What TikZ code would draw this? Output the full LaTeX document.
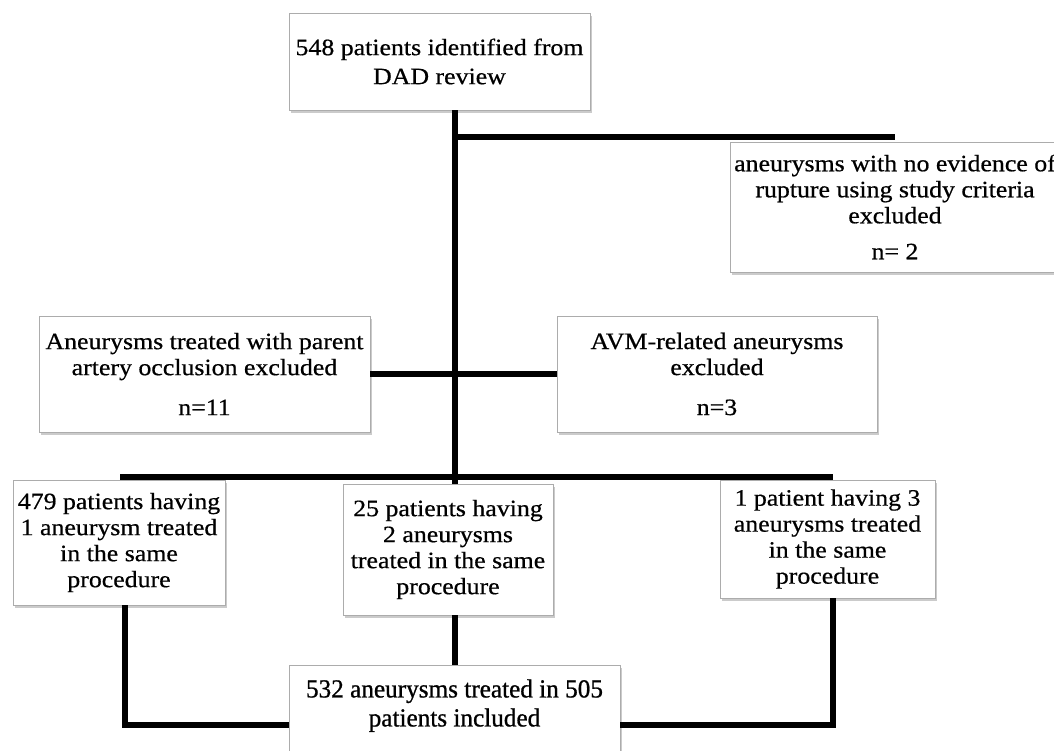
\documentclass[tikz,border=0pt]{standalone}
\usepackage{fontspec}
\setmainfont{Liberation Serif}[FakeStretch=1.1, FakeBold=0.6]
\newfontfamily\finalfont{Liberation Serif}[FakeStretch=0.97, FakeBold=0.8]
\usetikzlibrary{shadows}
\begin{document}
\begin{tikzpicture}[x=1pt,y=-1pt,
  box/.style={draw=gray!65, line width=0.8pt, fill=white, align=center,
    font=\fontsize{23.5}{26}\selectfont, inner sep=1pt,
    drop shadow={shadow xshift=1.5pt, shadow yshift=-3pt, fill=black!45, opacity=0.45}},
  conn/.style={line width=5.5pt, line cap=butt}]
\useasboundingbox (0,0) rectangle (1054,751);
\clip (0,0) rectangle (1054,751);
% boxes
\node[box, minimum width=301pt, minimum height=97pt] (top) at (439.5,61.5)
  {548 patients identified from\\[3pt]DAD review};
\node[box, minimum width=330pt, minimum height=130pt] (rupt) at (895,207)
  {aneurysms with no evidence of\\rupture using study criteria\\excluded\\[10pt]n= 2};
\node[box, minimum width=331pt, minimum height=116pt] (occl) at (204.5,374)
  {Aneurysms treated with parent\\artery occlusion excluded\\[14pt]n=11};
\node[box, minimum width=320pt, minimum height=116pt] (avm) at (717,374)
  {AVM-related aneurysms\\excluded\\[14pt]n=3};
\node[box, minimum width=212pt, minimum height=125pt] (p479) at (119,542.5)
  {479 patients having\\1 aneurysm treated\\in the same\\procedure};
\node[box, minimum width=210pt, minimum height=131pt] (p25) at (448,549.5)
  {25 patients having\\2 aneurysms\\treated in the same\\procedure};
\node[box, minimum width=215pt, minimum height=118pt] (p1) at (827.5,539)
  {1 patient having 3\\aneurysms treated\\in the same\\procedure};
\node[box, minimum width=331pt, anchor=north, inner ysep=14pt, text depth=70pt,
  font=\finalfont\fontsize{26}{29}\selectfont] (final) at (454.5,665)
  {532 aneurysms treated in 505\\patients included};
% junctions
\coordinate (j1) at (455,137);
\coordinate (j1e) at (895,137);
\coordinate (j3l) at (120,477);
\coordinate (j3r) at (833,477);
\coordinate (bl) at (125,725);
\coordinate (br) at (833,725);
% connectors
\draw[conn] (top.south -| j1) -- (p25.north -| j1);
\draw[conn] (j1) -- (j1e);
\draw[conn] (occl.east) -- (avm.west);
\draw[conn] (j3l) -- (j3r);
\draw[conn] (p479.south -| bl) -- (bl) -- (final.west |- bl);
\draw[conn] (p25.south -| j1) -- (final.north -| j1);
\draw[conn] (p1.south -| br) -- (br) -- (final.east |- br);
\end{tikzpicture}
\end{document}
